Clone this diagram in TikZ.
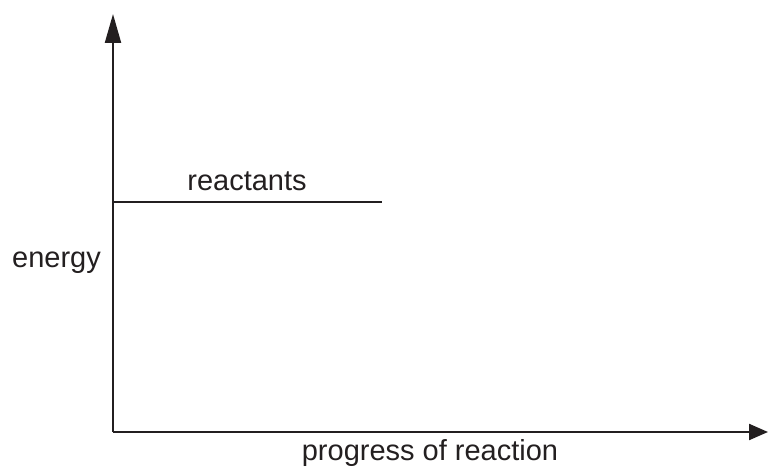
\documentclass[tikz,border=0pt]{standalone}
\usepackage{fontspec}
\setmainfont{Liberation Sans}
\usetikzlibrary{arrows.meta}
\definecolor{ink}{HTML}{231F20}
\begin{document}
\begin{tikzpicture}[x=1pt,y=-1pt,
  axis/.style={draw=ink,line width=2.2pt},
  lbl/.style={text=ink,font=\fontsize{29}{34}\selectfont,inner sep=0pt,anchor=base}]
\useasboundingbox (0,0) rectangle (768,468);
\coordinate (O) at (113,432);
\coordinate (ytop) at (113,14);
\coordinate (xend) at (768,432);
\coordinate (rs) at (113,202);
\coordinate (re) at (382,202);
\draw[axis,-{Triangle[length=29pt,width=16pt]}] (O) -- (ytop);
\draw[axis,-{Triangle[length=19pt,width=16pt]}] (O) -- (xend);
\draw[axis] (rs) -- (re);
\node[lbl] (reac) at (247,190) {reactants};
\node[lbl] (en) at (56.5,267) {energy};
\node[lbl] (prog) at (430,460) {progress of reaction};
\end{tikzpicture}
\end{document}
